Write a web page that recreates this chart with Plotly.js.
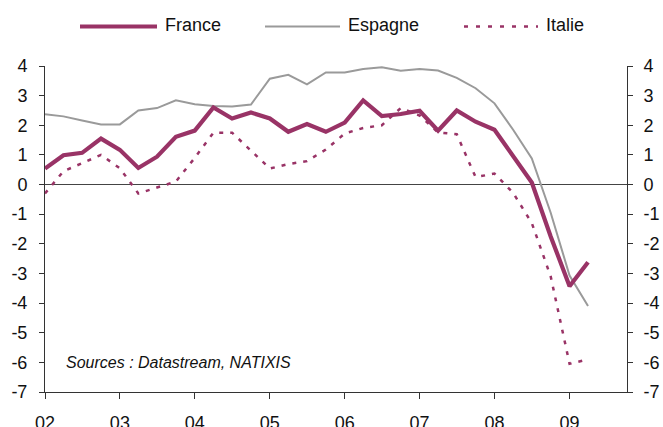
<!DOCTYPE html>
<html>
<head>
<meta charset="utf-8">
<script src="https://cdn.plot.ly/plotly-3.0.1.min.js"></script>
<style>html,body{margin:0;padding:0;background:#fff;}#chart{width:663px;height:427px;}</style>
</head>
<body>
<div id="chart"></div>
<script>
// Quarterly dates, 2002 Q1 to 2009 Q2
var quarters = [
  '2002-01-01','2002-04-01','2002-07-01','2002-10-01',
  '2003-01-01','2003-04-01','2003-07-01','2003-10-01',
  '2004-01-01','2004-04-01','2004-07-01','2004-10-01',
  '2005-01-01','2005-04-01','2005-07-01','2005-10-01',
  '2006-01-01','2006-04-01','2006-07-01','2006-10-01',
  '2007-01-01','2007-04-01','2007-07-01','2007-10-01',
  '2008-01-01','2008-04-01','2008-07-01','2008-10-01',
  '2009-01-01','2009-04-01'
];
var france = [
  0.54, 0.99, 1.07, 1.55,
  1.17, 0.56, 0.94, 1.61,
  1.82, 2.60, 2.23, 2.43,
  2.23, 1.78, 2.04, 1.78,
  2.09, 2.84, 2.31, 2.38,
  2.49, 1.82, 2.50, 2.12,
  1.85, 0.99, 0.07, -1.75,
  -3.43, -2.62
];
var espagne = [
  2.37, 2.30, 2.16, 2.03,
  2.03, 2.50, 2.58, 2.84,
  2.71, 2.65, 2.63, 2.70,
  3.57, 3.70, 3.38, 3.78,
  3.78, 3.90, 3.96, 3.84,
  3.90, 3.85, 3.60, 3.25,
  2.74, 1.85, 0.88, -0.95,
  -3.07, -4.10
];
var italie = [
  -0.30, 0.45, 0.72, 1.00,
  0.55, -0.30, -0.10, 0.10,
  0.90, 1.75, 1.75, 1.15,
  0.54, 0.69, 0.79, 1.18,
  1.72, 1.91, 2.00, 2.58,
  2.33, 1.76, 1.70, 0.25,
  0.37, -0.28, -1.30, -3.10,
  -6.05, -5.90
];
var yearTicks = ['2002-01-01','2003-01-01','2004-01-01','2005-01-01','2006-01-01','2007-01-01','2008-01-01','2009-01-01'];
var yearLabels = ['02','03','04','05','06','07','08','09'];
var yTicks = [-7,-6,-5,-4,-3,-2,-1,0,1,2,3,4];
var yLabels = ['-7','-6','-5','-4','-3','-2','-1','0','1','2','3','4'];
var seriesNames = ['France','Espagne','Italie'];
var sourceText = 'Sources : Datastream, NATIXIS';

var plum = '#993366';
var grey = '#9a9a9a';
var axisCol = '#333333';
var fontFam = '"Liberation Sans", Arial, sans-serif';

var traces = [
  {x: quarters, y: espagne, name: seriesNames[1], type: 'scatter', mode: 'lines',
   line: {color: grey, width: 2}},
  {x: quarters, y: italie, name: seriesNames[2], type: 'scatter', mode: 'lines',
   line: {color: plum, width: 2.5, dash: '4px,7px'}},
  {x: quarters, y: france, name: seriesNames[0], type: 'scatter', mode: 'lines',
   line: {color: plum, width: 4.2}},
  // invisible copy to activate the right-hand axis
  {x: quarters, y: france, yaxis: 'y2', type: 'scatter', mode: 'lines',
   line: {color: 'rgba(0,0,0,0)', width: 0}, hoverinfo: 'skip', showlegend: false}
];

// custom legend (long line samples like the original)
var L = 45, W = 582, T = 66, H = 326;
function px(xp){ return (xp - L) / W; }
function py(yp){ return (T + H - yp) / H; }
var legY = 26.5;
var shapes = [
  {type:'line', xref:'paper', yref:'paper', x0:px(80), x1:px(157), y0:py(legY), y1:py(legY),
   line:{color:plum, width:4.2}},
  {type:'line', xref:'paper', yref:'paper', x0:px(265), x1:px(340), y0:py(legY), y1:py(legY),
   line:{color:grey, width:2}},
  {type:'line', xref:'paper', yref:'paper', x0:px(464), x1:px(538), y0:py(legY), y1:py(legY),
   line:{color:plum, width:2.5, dash:'4px,8px'}}
];
var annotations = [
  {xref:'paper', yref:'paper', x:px(163), y:py(25), xanchor:'left', yanchor:'middle', showarrow:false,
   text: seriesNames[0], font:{family:fontFam, size:18, color:'#111'}},
  {xref:'paper', yref:'paper', x:px(346), y:py(25), xanchor:'left', yanchor:'middle', showarrow:false,
   text: seriesNames[1], font:{family:fontFam, size:18, color:'#111'}},
  {xref:'paper', yref:'paper', x:px(544), y:py(25), xanchor:'left', yanchor:'middle', showarrow:false,
   text: seriesNames[2], font:{family:fontFam, size:18, color:'#111'}},
  {xref:'paper', yref:'y', x:px(64), y:-6, xanchor:'left', yanchor:'middle', showarrow:false,
   text: '<i>' + sourceText + '</i>', font:{family:fontFam, size:16, color:'#111'}}
];

var tickFont = {family: fontFam, size: 18, color: '#111'};
var layout = {
  width: 663, height: 427,
  margin: {l: L, r: 663 - L - W, t: T, b: 427 - T - H, pad: 0},
  paper_bgcolor: '#fff', plot_bgcolor: '#fff',
  showlegend: false,
  font: {family: fontFam, size: 18, color: '#111'},
  xaxis: {
    type: 'date', range: ['2002-01-01', '2009-10-08'],
    tickmode: 'array', tickvals: yearTicks, ticktext: yearLabels,
    showgrid: false, zeroline: false,
    showline: true, linecolor: axisCol, linewidth: 1,
    ticks: 'outside', ticklen: 6, tickcolor: axisCol, tickwidth: 1,
    ticklabelstandoff: 8,
    tickfont: tickFont
  },
  yaxis: {
    range: [-7, 4], tickmode: 'array', tickvals: yTicks, ticktext: yLabels,
    showgrid: false,
    zeroline: true, zerolinecolor: '#444', zerolinewidth: 1.5,
    showline: true, linecolor: axisCol, linewidth: 1,
    ticks: 'outside', ticklen: 5, tickcolor: axisCol, tickwidth: 1,
    ticklabelstandoff: 8,
    tickfont: tickFont
  },
  yaxis2: {
    range: [-7, 4], tickmode: 'array', tickvals: yTicks, ticktext: yLabels,
    overlaying: 'y', side: 'right', anchor: 'x',
    showgrid: false, zeroline: false,
    showline: true, linecolor: axisCol, linewidth: 1,
    ticks: 'outside', ticklen: 5, tickcolor: axisCol, tickwidth: 1,
    ticklabelstandoff: 7,
    tickfont: tickFont
  },
  shapes: shapes,
  annotations: annotations
};

Plotly.newPlot('chart', traces, layout, {displayModeBar: false, staticPlot: true});
</script>
</body>
</html>
